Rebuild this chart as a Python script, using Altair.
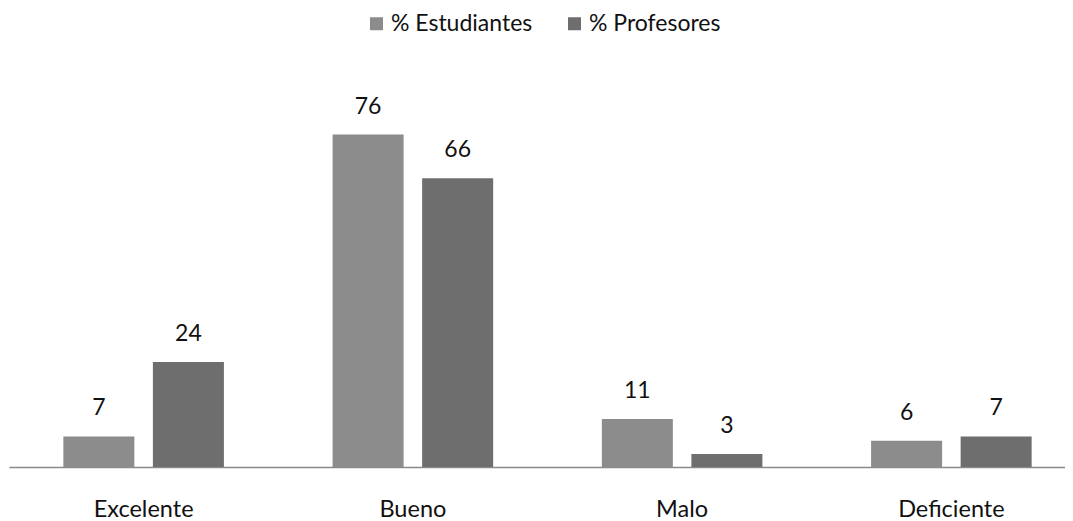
import altair as alt
import pandas as pd

categorias = ["Excelente", "Bueno", "Malo", "Deficiente"]
series = ["% Estudiantes", "% Profesores"]
estudiantes = [7, 76, 11, 6]
profesores = [24, 66, 3, 7]
colores = ["#8c8c8c", "#6e6e6e"]

rows = []
for c, e, p in zip(categorias, estudiantes, profesores):
    rows.append({"cat": c, "serie": series[0], "valor": e})
    rows.append({"cat": c, "serie": series[1], "valor": p})
df = pd.DataFrame(rows)

FONT = "Lato"

x = alt.X("cat:N", sort=categorias, title=None,
          scale=alt.Scale(paddingInner=0, paddingOuter=0, range=[0, 1077]),
          axis=alt.Axis(labelAngle=0, ticks=False, domainColor="#8a8a8a", domainWidth=1.5,
                        labelFontSize=23.5, labelFont=FONT, labelColor="#111111",
                        labelPadding=30, grid=False))
xo = alt.XOffset("serie:N", sort=series,
                 scale=alt.Scale(paddingInner=0.207, paddingOuter=0.607))
y = alt.Y("valor:Q", scale=alt.Scale(domain=[0, 80]), axis=None)

bars = alt.Chart(df).mark_bar().encode(
    x=x, xOffset=xo, y=y,
    color=alt.Color("serie:N", sort=series,
                    scale=alt.Scale(domain=series, range=colores),
                    legend=alt.Legend(title=None, orient="none", direction="horizontal",
                                      legendX=356, legendY=-105, symbolType="square",
                                      symbolSize=169, symbolStrokeWidth=0,
                                      labelFontSize=23, labelFont=FONT, labelColor="#111111",
                                      columnPadding=30, labelOffset=3)),
)

labels = alt.Chart(df).mark_text(baseline="middle", dy=-28, fontSize=23, font=FONT,
                                 color="#111111").encode(
    x=x, xOffset=xo, y=y, text="valor:Q")

chart = (bars + labels).properties(
    width=1056, height=350,
    autosize=alt.AutoSizeParams(type="none"),
    padding={"left": 1, "top": 109, "right": 0, "bottom": 62},
).configure_view(stroke=None)

chart.save("out.html", embed_options={"renderer": "svg", "actions": False})
